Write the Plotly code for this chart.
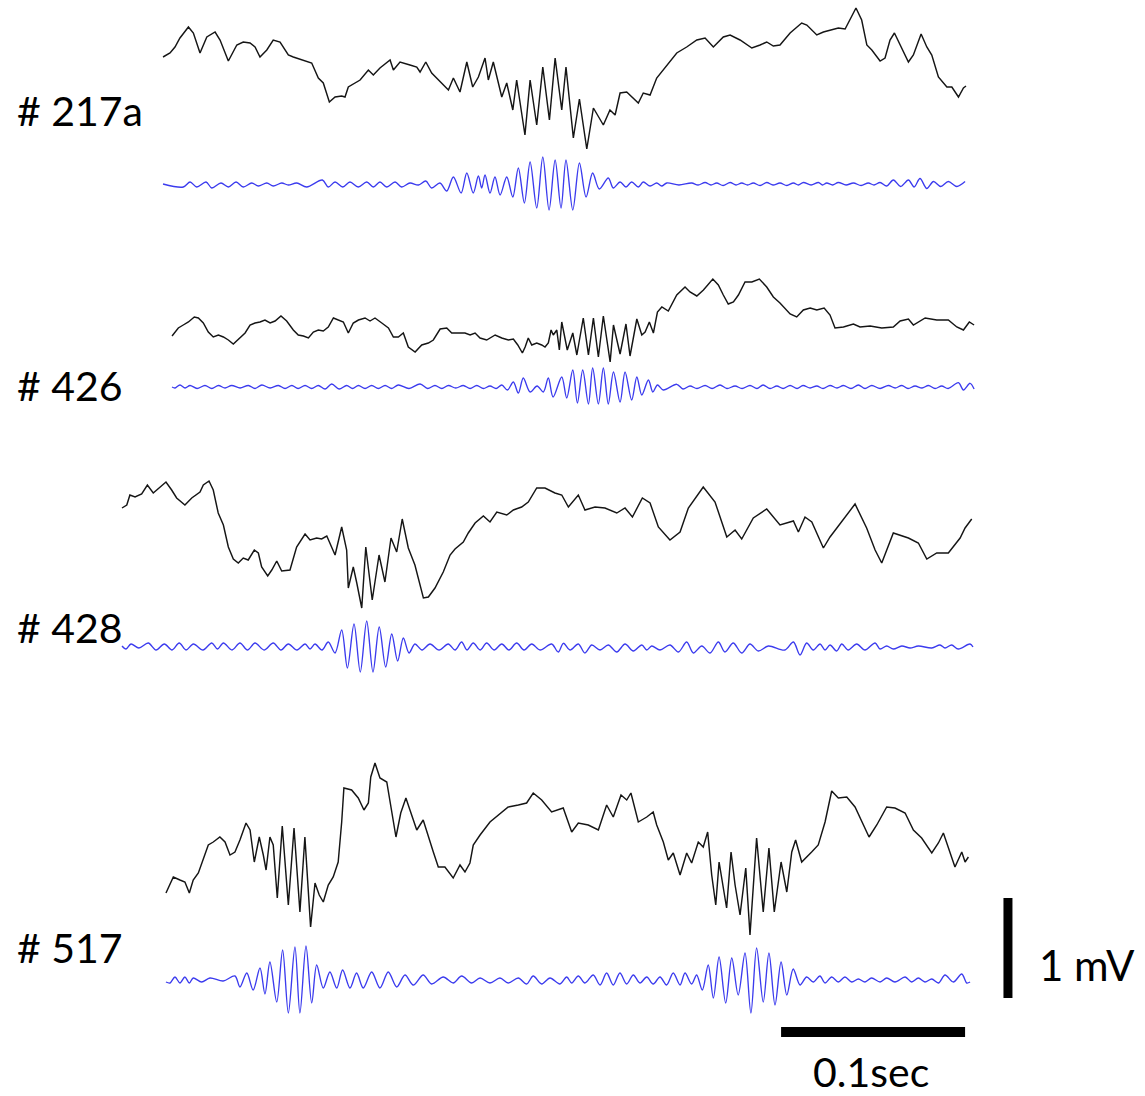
import plotly.graph_objects as go

# ---------------------------------------------------------------
# Hippocampal LFP sweeps: wide-band trace (black) and the ripple
# band-passed trace (blue) for four recordings.
# Time in ms from the start of each sweep, voltage in mV.
# ---------------------------------------------------------------

recordings = ["# 217a", "# 426", "# 428", "# 517"]

# --- # 217a ---
t_217a_raw = [0.0, 3.8, 6.5, 9.2, 13.8, 16.5, 20.1, 23.8, 28.3, 31.0,
              35.5, 40.1, 43.6, 47.3, 50.0, 52.7, 56.4, 59.9, 63.6, 68.1,
              70.8, 76.3, 80.8, 84.4, 87.1, 90.4, 93.5, 97.1, 98.9, 100.7,
              107.1, 111.6, 114.3, 117.9, 123.4, 125.2, 128.8, 134.2, 137.9, 139.7,
              142.8, 146.0, 149.6, 155.1, 157.8, 161.4, 165.1, 168.3, 171.4, 175.0,
              176.8, 179.5, 184.1, 186.8, 190.1, 192.2, 196.7, 199.5, 203.1, 206.4,
              210.0, 213.1, 216.7, 219.0, 223.0, 226.3, 230.3, 233.9, 239.3, 242.9,
              245.7, 248.4, 252.0, 254.7, 258.3, 261.0, 264.7, 268.3, 273.8, 279.2,
              284.6, 290.1, 294.6, 299.1, 304.5, 308.2, 313.6, 320.0, 324.5, 328.1,
              331.7, 335.3, 340.8, 347.1, 349.9, 355.3, 358.9, 362.5, 367.0, 370.7,
              373.4, 376.6, 379.7, 382.5, 385.2, 389.7, 392.4, 395.1, 397.5, 400.6,
              405.1, 407.8, 412.0, 415.1, 417.8, 421.4, 426.0, 428.7, 432.3, 435.0,
              436.4]
v_217a_raw = [0.33, 0.37, 0.43, 0.52, 0.63, 0.57, 0.37, 0.53, 0.58, 0.50,
              0.29, 0.45, 0.48, 0.47, 0.43, 0.33, 0.40, 0.50, 0.48, 0.35,
              0.33, 0.30, 0.27, 0.12, 0.07, -0.12, -0.07, -0.06, -0.07, 0.03,
              0.10, 0.20, 0.15, 0.22, 0.30, 0.20, 0.28, 0.25, 0.23, 0.18,
              0.28, 0.17, 0.10, 0.00, 0.12, -0.02, 0.28, 0.03, 0.13, 0.32,
              0.10, 0.28, -0.07, 0.07, -0.20, 0.10, -0.45, 0.10, -0.35, 0.23,
              -0.30, 0.32, -0.20, 0.23, -0.48, -0.09, -0.59, -0.18, -0.35, -0.20,
              -0.25, -0.03, -0.02, -0.07, -0.13, -0.03, -0.05, 0.12, 0.25, 0.37,
              0.43, 0.50, 0.52, 0.43, 0.53, 0.55, 0.50, 0.42, 0.45, 0.48,
              0.44, 0.45, 0.57, 0.67, 0.65, 0.55, 0.58, 0.60, 0.62, 0.61,
              0.70, 0.82, 0.70, 0.45, 0.40, 0.29, 0.32, 0.50, 0.57, 0.45,
              0.28, 0.35, 0.56, 0.43, 0.35, 0.13, 0.03, 0.03, -0.07, 0.02,
              0.04]
t_217a_rip = [0.0, 11.0, 14.7, 18.3, 23.4, 26.5, 31.5, 35.5, 39.7, 43.6,
              48.2, 51.8, 56.4, 59.9, 64.5, 68.1, 72.7, 78.1, 86.6, 89.8,
              93.5, 97.7, 101.6, 106.1, 110.7, 114.3, 117.9, 121.6, 126.1, 129.7,
              134.2, 138.8, 142.8, 146.0, 150.5, 154.2, 157.8, 162.0, 165.1, 168.6,
              171.4, 173.2, 175.0, 177.7, 180.4, 183.2, 186.8, 190.1, 193.1, 196.4,
              199.5, 203.1, 206.4, 209.8, 213.1, 216.3, 219.0, 222.7, 226.3, 229.9,
              233.5, 237.1, 242.0, 244.7, 248.4, 251.6, 254.7, 258.3, 261.0, 264.7,
              268.3, 271.0, 273.8, 280.4, 287.3, 290.8, 294.6, 297.8, 300.9, 304.4,
              308.2, 311.4, 314.5, 317.7, 320.8, 324.5, 328.1, 331.5, 335.3, 339.0,
              342.6, 345.3, 348.0, 352.2, 356.2, 358.4, 360.7, 363.9, 367.0, 371.2,
              375.2, 379.4, 383.3, 386.4, 389.7, 393.3, 396.9, 400.9, 405.1, 408.2,
              411.4, 415.1, 418.7, 422.7, 426.8, 431.4, 435.9]
v_217a_rip = [0.00, -0.03, 0.02, -0.03, 0.02, -0.04, 0.01, -0.03, 0.02, -0.03,
              0.01, -0.02, 0.01, -0.02, 0.01, -0.01, 0.01, -0.03, 0.04, -0.03,
              0.02, -0.03, 0.02, -0.03, 0.02, -0.03, 0.02, -0.03, 0.02, -0.03,
              0.01, -0.01, 0.03, -0.04, 0.01, -0.07, 0.07, -0.09, 0.11, -0.09,
              0.08, -0.04, 0.09, -0.09, 0.07, -0.11, 0.07, -0.13, 0.16, -0.19,
              0.22, -0.24, 0.27, -0.26, 0.24, -0.24, 0.24, -0.26, 0.21, -0.13,
              0.11, -0.05, 0.06, -0.04, 0.02, -0.03, 0.02, -0.03, 0.02, -0.02,
              0.01, -0.02, 0.01, -0.01, 0.01, -0.01, 0.015, -0.01, 0.01, -0.015,
              0.015, -0.01, 0.01, -0.01, 0.01, -0.015, 0.015, -0.01, 0.01, -0.015,
              0.01, -0.01, 0.015, -0.01, 0.015, -0.01, 0.01, -0.01, 0.015, -0.01,
              0.01, -0.015, 0.01, -0.01, 0.015, -0.02, 0.04, -0.025, 0.04, -0.03,
              0.055, -0.045, 0.025, -0.025, 0.025, -0.025, 0.025]

# --- # 426 ---
t_426_raw = [0.0, 3.4, 6.1, 8.9, 12.1, 14.3, 17.0, 19.7, 22.4, 25.2,
             27.9, 30.6, 33.3, 36.0, 39.7, 42.4, 45.1, 47.8, 50.5, 53.3,
             56.0, 59.2, 62.3, 65.9, 68.6, 71.4, 74.1, 76.8, 79.5, 82.2,
             84.9, 87.7, 90.4, 93.1, 95.8, 98.5, 101.3, 104.9, 107.6, 110.3,
             114.0, 117.6, 120.3, 123.0, 125.7, 128.4, 132.1, 135.7, 139.3, 142.0,
             145.7, 149.3, 152.0, 155.6, 159.2, 162.0, 164.7, 167.4, 171.0, 175.6,
             179.2, 182.8, 185.5, 187.9, 190.4, 191.9, 193.6, 195.5, 198.2, 200.9,
             202.7, 204.5, 206.0, 207.2, 209.1, 210.5, 211.8, 214.8, 217.8, 220.0,
             223.5, 226.3, 229.0, 231.7, 234.4, 238.1, 239.9, 243.5, 246.7, 248.9,
             252.6, 255.3, 257.1, 259.4, 261.6, 263.8, 266.2, 269.7, 274.3, 278.8,
             281.5, 285.2, 288.8, 293.9, 296.9, 299.6, 302.3, 305.1, 307.8, 311.4,
             315.1, 319.2, 323.2, 326.8, 330.4, 335.9, 339.5, 343.1, 346.8, 350.4,
             354.4, 357.6, 360.3, 364.9, 370.3, 373.9, 379.4, 385.7, 392.0, 395.7,
             400.2, 402.9, 409.3, 415.6, 421.9, 426.5, 430.1, 433.3, 435.9]
v_426_raw = [-0.06, 0.02, 0.05, 0.08, 0.13, 0.12, 0.07, -0.02, -0.07, -0.05,
             -0.07, -0.10, -0.14, -0.09, -0.03, 0.05, 0.07, 0.08, 0.10, 0.07,
             0.09, 0.14, 0.09, 0.00, -0.05, -0.06, -0.08, -0.02, 0.00, -0.01,
             0.03, 0.12, 0.10, 0.08, -0.03, 0.07, 0.10, 0.12, 0.09, 0.12,
             0.07, 0.02, -0.07, -0.07, -0.03, -0.17, -0.22, -0.15, -0.13, -0.10,
             0.01, 0.02, -0.03, -0.03, -0.03, -0.05, -0.03, -0.08, -0.10, -0.05,
             -0.08, -0.10, -0.09, -0.15, -0.23, -0.17, -0.08, -0.15, -0.13, -0.15,
             -0.17, -0.13, 0.00, -0.05, 0.00, -0.20, 0.08, -0.20, -0.03, -0.25,
             0.12, -0.25, 0.12, -0.27, 0.14, -0.32, 0.05, -0.24, 0.06, -0.26,
             0.11, -0.05, -0.02, 0.08, -0.03, 0.18, 0.23, 0.19, 0.35, 0.43,
             0.38, 0.34, 0.40, 0.51, 0.45, 0.35, 0.26, 0.28, 0.35, 0.48,
             0.48, 0.51, 0.43, 0.33, 0.27, 0.16, 0.13, 0.20, 0.22, 0.20,
             0.22, 0.15, 0.02, 0.03, 0.06, 0.03, 0.04, 0.02, 0.03, 0.09,
             0.11, 0.05, 0.12, 0.10, 0.10, 0.03, 0.00, 0.08, 0.05]
t_426_rip = [0.0, 1.6, 4.3, 7.1, 9.8, 13.6, 17.9, 21.6, 25.2, 28.8,
             32.4, 37.0, 41.5, 45.1, 48.8, 53.3, 57.8, 61.4, 65.1, 68.5,
             72.3, 75.9, 79.5, 83.2, 86.8, 90.8, 94.9, 98.1, 101.3, 104.9,
             108.5, 112.1, 115.8, 119.4, 123.0, 128.8, 134.8, 138.9, 142.9, 146.6,
             150.2, 154.2, 158.3, 162.0, 165.6, 169.2, 172.8, 176.1, 179.2, 182.3,
             185.5, 188.2, 190.9, 194.6, 198.4, 201.8, 204.5, 207.1, 211.8, 214.5,
             217.8, 220.3, 223.2, 226.3, 228.6, 231.7, 234.4, 237.1, 239.9, 243.5,
             246.2, 249.8, 252.6, 255.3, 258.9, 261.3, 263.8, 267.0, 274.3, 277.7,
             281.5, 285.3, 289.7, 293.5, 297.8, 301.6, 306.0, 309.8, 314.1, 317.9,
             321.2, 325.0, 328.7, 332.1, 335.9, 339.7, 342.9, 346.8, 350.4, 353.8,
             357.6, 361.4, 364.9, 369.0, 373.0, 376.6, 380.3, 384.8, 389.3, 393.0,
             396.6, 400.0, 403.8, 407.6, 411.1, 414.7, 418.3, 421.8, 427.4, 430.1,
             433.7, 435.9]
v_426_rip = [0.00, -0.01, 0.02, -0.01, 0.015, -0.015, 0.015, -0.015, 0.015, -0.01,
             0.015, -0.01, 0.015, -0.015, 0.02, -0.01, 0.015, -0.015, 0.015, -0.015,
             0.015, -0.015, 0.015, -0.02, 0.03, -0.02, 0.015, -0.015, 0.015, -0.015,
             0.015, -0.015, 0.015, -0.015, 0.02, -0.015, 0.03, -0.015, 0.015, -0.015,
             0.015, -0.01, 0.015, -0.015, 0.015, -0.015, 0.01, -0.015, 0.02, -0.03,
             0.05, -0.06, 0.09, -0.05, 0.01, -0.05, 0.09, -0.10, 0.10, -0.11,
             0.17, -0.16, 0.17, -0.17, 0.19, -0.17, 0.19, -0.17, 0.15, -0.15,
             0.15, -0.13, 0.10, -0.08, 0.07, -0.05, 0.02, -0.03, 0.027, -0.02,
             0.01, -0.015, 0.015, -0.015, 0.02, -0.015, 0.01, -0.015, 0.015, -0.015,
             0.02, -0.015, 0.01, -0.015, 0.015, -0.015, 0.015, -0.01, 0.01, -0.015,
             0.015, -0.01, 0.015, -0.015, 0.02, -0.015, 0.015, -0.015, 0.015, -0.01,
             0.015, -0.015, 0.01, -0.01, 0.015, -0.015, 0.01, -0.015, 0.043, -0.03,
             0.037, -0.02]

# --- # 428 ---
t_428_raw = [0.0, 2.6, 4.3, 7.1, 10.7, 13.8, 17.0, 20.7, 23.9, 27.0,
             29.7, 34.2, 37.9, 42.4, 44.2, 47.3, 49.6, 52.3, 55.1, 57.8,
             60.5, 63.2, 65.9, 68.6, 71.9, 74.1, 75.9, 79.2, 81.4, 84.1,
             86.8, 91.3, 94.9, 99.5, 102.2, 105.8, 108.5, 111.3, 113.0, 115.8,
             119.4, 122.1, 123.0, 125.7, 127.6, 130.3, 132.5, 136.0, 139.7, 142.9,
             146.2, 149.3, 152.3, 155.6, 159.2, 163.8, 166.5, 170.1, 174.6, 178.3,
             181.0, 185.5, 188.2, 191.9, 196.4, 200.0, 203.7, 209.1, 212.7, 217.2,
             220.8, 225.4, 229.9, 235.3, 239.0, 242.6, 248.0, 251.6, 257.1, 262.5,
             268.9, 273.4, 277.4, 282.8, 287.0, 291.5, 297.8, 303.3, 307.8, 315.9,
             322.3, 328.7, 333.2, 336.8, 343.1, 350.4, 357.6, 364.9, 367.6, 371.2,
             374.9, 381.2, 384.8, 391.2, 398.4, 404.7, 409.3, 412.9, 415.6, 419.2,
             427.4, 432.8, 437.4, 442.8, 449.1, 455.5, 458.2, 461.8]
v_428_raw = [0.52, 0.55, 0.65, 0.63, 0.66, 0.75, 0.67, 0.73, 0.78, 0.70,
             0.62, 0.55, 0.62, 0.68, 0.75, 0.79, 0.70, 0.47, 0.35, 0.13,
             0.01, -0.03, 0.02, 0.00, 0.10, 0.07, -0.07, -0.16, -0.10, -0.01,
             -0.11, -0.10, 0.13, 0.26, 0.20, 0.22, 0.21, 0.24, 0.17, 0.05,
             0.33, 0.10, -0.28, -0.07, -0.23, -0.48, 0.13, -0.40, 0.05, -0.22,
             0.22, 0.08, 0.41, 0.12, -0.05, -0.38, -0.37, -0.28, -0.12, 0.05,
             0.11, 0.18, 0.27, 0.37, 0.44, 0.38, 0.48, 0.45, 0.50, 0.53,
             0.58, 0.72, 0.72, 0.67, 0.65, 0.53, 0.65, 0.50, 0.53, 0.52,
             0.47, 0.52, 0.43, 0.62, 0.57, 0.33, 0.20, 0.28, 0.52, 0.73,
             0.58, 0.23, 0.30, 0.21, 0.42, 0.51, 0.35, 0.39, 0.28, 0.43,
             0.38, 0.12, 0.23, 0.38, 0.56, 0.32, 0.10, -0.03, 0.10, 0.27,
             0.22, 0.17, 0.01, 0.07, 0.07, 0.22, 0.32, 0.41]
t_428_rip = [0.0, 2.2, 4.9, 9.2, 14.3, 18.5, 23.0, 27.2, 31.1, 34.8,
             38.8, 44.0, 48.8, 51.9, 55.1, 59.8, 64.1, 68.2, 72.3, 77.2,
             82.2, 86.4, 90.4, 95.1, 99.5, 102.2, 104.9, 108.7, 112.1, 115.8,
             119.4, 122.5, 126.1, 129.5, 133.0, 136.4, 139.8, 143.3, 146.6, 149.8,
             152.9, 156.0, 159.2, 163.1, 167.4, 172.3, 177.3, 181.0, 184.6, 187.5,
             190.9, 194.6, 198.2, 202.2, 206.4, 210.3, 214.5, 218.5, 222.7, 227.2,
             233.5, 237.1, 239.9, 243.5, 248.0, 251.6, 255.3, 259.8, 264.3, 268.9,
             273.4, 277.9, 282.5, 285.2, 287.9, 292.4, 297.8, 302.4, 306.9, 310.5,
             315.1, 319.6, 324.1, 327.7, 332.2, 336.8, 341.3, 345.8, 351.3, 360.3,
             364.9, 368.5, 372.1, 375.7, 379.4, 382.1, 384.8, 388.4, 391.2, 394.7,
             399.3, 403.8, 409.3, 412.0, 415.6, 419.2, 423.8, 428.3, 432.8, 440.1,
             444.6, 447.3, 450.9, 454.5, 460.9, 462.5]
v_428_rip = [0.00, -0.03, 0.02, -0.02, 0.03, -0.04, 0.02, -0.04, 0.03, -0.04,
             0.02, -0.04, 0.03, -0.03, 0.03, -0.04, 0.03, -0.04, 0.03, -0.04,
             0.03, -0.04, 0.02, -0.04, 0.02, -0.03, 0.02, -0.04, 0.04, -0.07,
             0.16, -0.22, 0.22, -0.26, 0.25, -0.26, 0.19, -0.21, 0.12, -0.15,
             0.08, -0.07, 0.02, -0.04, 0.02, -0.04, 0.02, -0.04, 0.04, -0.04,
             0.03, -0.04, 0.03, -0.04, 0.02, -0.04, 0.03, -0.04, 0.02, -0.04,
             0.02, -0.06, 0.027, -0.04, 0.02, -0.07, 0.01, -0.04, 0.01, -0.06,
             0.02, -0.05, 0.01, -0.04, 0.00, -0.04, 0.01, -0.06, 0.04, -0.07,
             0.00, -0.07, 0.04, -0.06, 0.03, -0.07, 0.02, -0.05, 0.00, -0.04,
             0.04, -0.09, 0.03, -0.04, 0.02, -0.04, 0.01, -0.05, 0.02, -0.04,
             0.02, -0.04, 0.03, -0.03, 0.00, -0.03, 0.00, -0.02, 0.00, -0.02,
             0.01, -0.02, 0.01, -0.03, 0.02, -0.01]

# --- # 517 ---
t_517_raw = [0.0, 1.3, 4.0, 7.6, 10.3, 12.7, 14.8, 17.6, 20.3, 23.0,
             25.7, 29.3, 32.1, 34.8, 37.5, 40.2, 43.5, 45.7, 48.0, 50.7,
             52.9, 54.4, 56.5, 58.3, 60.5, 63.2, 66.5, 69.6, 72.8, 75.5,
             78.6, 81.0, 83.3, 85.5, 88.2, 90.9, 93.6, 95.5, 96.7, 100.9,
             104.5, 107.6, 110.0, 111.3, 113.6, 116.3, 120.0, 122.7, 125.0, 127.6,
             130.4, 132.6, 136.3, 139.8, 142.6, 145.3, 148.0, 151.6, 156.1, 159.8,
             162.5, 165.2, 167.0, 170.7, 176.1, 180.6, 186.0, 191.5, 196.0, 199.6,
             204.2, 209.6, 215.9, 220.5, 224.1, 229.5, 235.0, 239.5, 243.1, 247.3,
             250.4, 252.7, 256.7, 261.3, 264.8, 266.7, 270.3, 273.0, 275.7, 279.4,
             283.0, 285.7, 289.3, 292.0, 294.4, 296.6, 298.8, 300.6, 302.9, 304.7,
             307.1, 309.3, 312.0, 315.1, 317.4, 321.0, 324.6, 327.7, 330.6, 334.3,
             337.4, 340.1, 342.2, 345.5, 350.9, 354.5, 358.2, 361.8, 365.4, 370.0,
             374.5, 378.1, 382.1, 386.3, 391.7, 396.2, 401.7, 406.2, 410.7, 416.2,
             419.8, 422.5, 425.2, 428.8, 432.5, 434.3, 436.1]
v_517_raw = [-0.43, -0.38, -0.27, -0.30, -0.32, -0.43, -0.30, -0.23, -0.10, 0.05,
             0.08, 0.13, 0.08, -0.05, -0.02, 0.10, 0.27, 0.20, -0.12, 0.13,
             -0.05, -0.20, 0.13, 0.05, -0.48, 0.24, -0.55, 0.22, -0.62, 0.13,
             -0.77, -0.33, -0.45, -0.52, -0.35, -0.27, -0.12, 0.28, 0.62, 0.60,
             0.52, 0.40, 0.47, 0.73, 0.87, 0.72, 0.68, 0.38, 0.13, 0.37,
             0.52, 0.40, 0.20, 0.30, 0.13, -0.02, -0.17, -0.17, -0.28, -0.15,
             -0.22, -0.13, 0.05, 0.15, 0.28, 0.35, 0.43, 0.45, 0.47, 0.57,
             0.50, 0.38, 0.42, 0.18, 0.27, 0.25, 0.20, 0.45, 0.33, 0.55,
             0.50, 0.57, 0.28, 0.33, 0.38, 0.25, 0.08, -0.10, -0.03, -0.25,
             -0.03, -0.13, 0.08, 0.03, 0.18, -0.25, -0.55, -0.12, -0.38, -0.58,
             -0.02, -0.35, -0.65, -0.18, -0.85, 0.12, -0.62, 0.02, -0.62, -0.12,
             -0.42, -0.02, 0.10, -0.12, -0.02, 0.05, 0.28, 0.59, 0.52, 0.53,
             0.43, 0.28, 0.13, 0.25, 0.43, 0.42, 0.37, 0.20, 0.12, -0.03,
             0.07, 0.17, 0.02, -0.17, -0.02, -0.12, -0.07]
t_517_rip = [0.0, 2.2, 4.9, 7.6, 10.3, 12.7, 14.8, 19.4, 23.9, 31.1,
             37.5, 40.2, 43.9, 47.4, 51.1, 53.8, 56.5, 60.2, 63.4, 66.5,
             70.1, 72.8, 76.1, 79.2, 81.9, 85.5, 89.1, 92.8, 96.0, 100.0,
             103.6, 107.2, 111.8, 116.3, 120.8, 125.4, 129.9, 134.4, 139.8, 144.4,
             150.7, 156.1, 160.7, 166.1, 170.7, 176.1, 181.5, 186.0, 191.5, 196.0,
             199.6, 204.2, 208.7, 214.1, 217.8, 220.5, 224.1, 227.7, 232.2, 235.9,
             239.5, 243.1, 246.7, 250.4, 254.0, 257.6, 261.3, 264.8, 268.5, 272.1,
             275.7, 279.4, 282.1, 285.7, 288.4, 291.5, 294.7, 297.5, 300.6, 304.2,
             307.5, 311.0, 314.7, 317.9, 321.0, 324.6, 327.7, 331.0, 334.3, 337.4,
             340.9, 344.6, 348.2, 351.8, 355.4, 358.2, 361.8, 365.4, 369.0, 372.7,
             376.3, 379.9, 383.5, 388.1, 391.7, 396.2, 401.7, 405.3, 408.9, 412.5,
             416.2, 419.8, 423.4, 427.9, 432.5, 435.2, 437.0]
v_517_rip = [-0.02, -0.03, 0.03, -0.03, 0.03, -0.03, 0.02, -0.02, 0.02, -0.01,
             0.04, -0.07, 0.07, -0.10, 0.12, -0.14, 0.18, -0.22, 0.30, -0.33,
             0.33, -0.33, 0.34, -0.23, 0.15, -0.08, 0.08, -0.08, 0.10, -0.08,
             0.07, -0.08, 0.08, -0.08, 0.08, -0.07, 0.05, -0.05, 0.05, -0.04,
             0.03, -0.03, 0.04, -0.03, 0.02, -0.03, 0.02, -0.03, 0.02, -0.04,
             0.04, -0.04, 0.02, -0.04, 0.03, -0.03, 0.04, -0.03, 0.05, -0.05,
             0.07, -0.05, 0.07, -0.04, 0.05, -0.03, 0.03, -0.04, 0.03, -0.05,
             0.07, -0.05, 0.07, -0.04, 0.05, -0.10, 0.15, -0.18, 0.23, -0.23,
             0.22, -0.15, 0.27, -0.33, 0.32, -0.22, 0.27, -0.25, 0.18, -0.15,
             0.11, -0.05, 0.03, -0.02, 0.04, -0.03, 0.03, -0.02, 0.03, -0.02,
             0.01, -0.02, 0.02, -0.02, 0.02, -0.02, 0.03, -0.02, 0.02, -0.02,
             0.01, -0.03, 0.05, -0.02, 0.06, -0.03, -0.02]

# Scale bars
SCALE_MV = 1.0     # vertical bar, mV
SCALE_MS = 100.0   # horizontal bar, ms  (0.1 s)

# ---------------------------------------------------------------
# Layout of the stacked sweeps (sweep start in ms, baseline in mV)
# ---------------------------------------------------------------
sweeps = [
    dict(name="# 217a", t0=22.3, raw=(t_217a_raw, v_217a_raw), rip=(t_217a_rip, v_217a_rip),
         y_raw=-0.90, y_rip=-1.84, label_y=-1.10),
    dict(name="# 426", t0=27.2, raw=(t_426_raw, v_426_raw), rip=(t_426_rip, v_426_rip),
         y_raw=-3.30, y_rip=-3.87, label_y=-3.85),
    dict(name="# 428", t0=0.0, raw=(t_428_raw, v_428_raw), rip=(t_428_rip, v_428_rip),
         y_raw=-5.60, y_rip=-6.46, label_y=-6.27),
    dict(name="# 517", t0=23.9, raw=(t_517_raw, v_517_raw), rip=(t_517_rip, v_517_rip),
         y_raw=-8.50, y_rip=-9.80, label_y=-9.475),
]

BLACK = "#151515"
BLUE = "#3b3bee"
FONT = "Lato"

fig = go.Figure()

for s in sweeps:
    for key, colour, shape, width in (("raw", BLACK, "linear", 1.45), ("rip", BLUE, "spline", 1.35)):
        t, v = s[key]
        if len(t) != len(v):
            raise ValueError(f"{s['name']} {key}: {len(t)} times vs {len(v)} values")
        base = s["y_raw"] if key == "raw" else s["y_rip"]
        fig.add_trace(go.Scatter(
            x=[s["t0"] + ti for ti in t],
            y=[base + vi for vi in v],
            mode="lines",
            line=dict(color=colour, width=width, shape=shape, smoothing=0.9),
            hoverinfo="skip",
            showlegend=False,
        ))
    fig.add_annotation(
        x=0.013, xref="paper", y=s["label_y"], yref="y",
        text=s["name"], showarrow=False,
        xanchor="left", yanchor="middle",
        font=dict(family=FONT, size=41, color="black"),
    )

# Vertical (1 mV) and horizontal (0.1 s) scale bars
bar_x, bar_top = 481.5, -8.98
fig.add_shape(type="line", x0=bar_x, x1=bar_x, y0=bar_top, y1=bar_top - SCALE_MV,
              xref="x", yref="y", line=dict(color="black", width=9))
hbar_x0, hbar_y = 358.2, -10.32
fig.add_shape(type="line", x0=hbar_x0, x1=hbar_x0 + SCALE_MS, y0=hbar_y, y1=hbar_y,
              xref="x", yref="y", line=dict(color="black", width=10))

fig.add_annotation(x=bar_x + 16, y=bar_top - SCALE_MV / 2 - 0.17, xref="x", yref="y",
                   text="1 mV", showarrow=False, xanchor="left", yanchor="middle",
                   font=dict(family=FONT, size=42, color="black"))
fig.add_annotation(x=hbar_x0 + SCALE_MS / 2 - 1, y=hbar_y - 0.39, xref="x", yref="y",
                   text="0.1sec", showarrow=False, xanchor="center", yanchor="middle",
                   font=dict(family=FONT, size=41, color="black"))

fig.update_layout(
    width=1145, height=1096,
    margin=dict(l=0, r=0, t=0, b=0),
    paper_bgcolor="white", plot_bgcolor="white",
    xaxis=dict(range=[-66.30, 555.98], visible=False, fixedrange=True),
    yaxis=dict(range=[-10.96, 0.0], visible=False, fixedrange=True),
)

fig.write_html("out.html")
